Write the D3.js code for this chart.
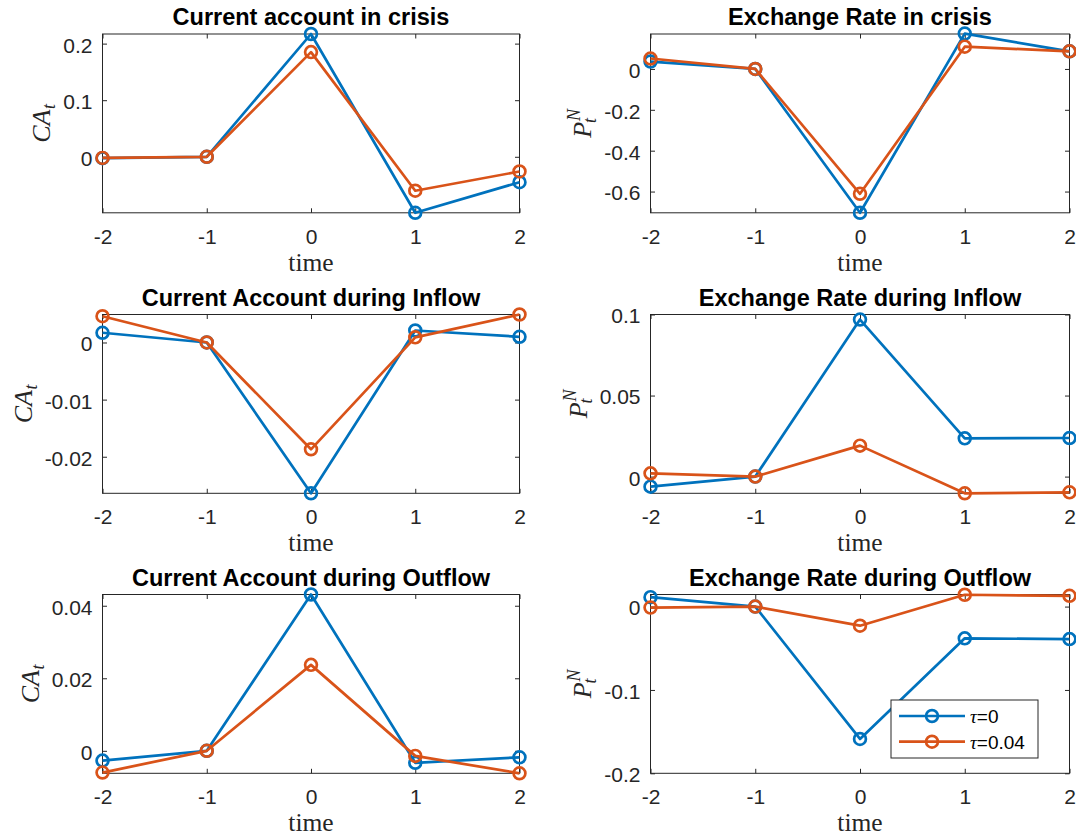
<!DOCTYPE html>
<html>
<head>
<meta charset="utf-8">
<script src="https://cdn.jsdelivr.net/npm/d3@7"></script>
<style>
  html, body { margin: 0; padding: 0; background: #ffffff; }
  svg { display: block; }
</style>
</head>
<body>
<svg id="fig" width="1076" height="837"></svg>
<script>
// ---- data -------------------------------------------------------------
const periods = [-2, -1, 0, 1, 2];
const xTickLabels = ["-2", "-1", "0", "1", "2"];
const tauLabels = ["0", "0.04"];

// Current account in crisis
const caCrisisTau0   = [-0.0025, 0, 0.217, -0.099, -0.045];
const caCrisisTau004 = [-0.002, 0, 0.185, -0.060, -0.026];
const caCrisisLimits = [-0.099, 0.217];
const caCrisisTicks  = [0, 0.1, 0.2];
const caCrisisTickLabels = ["0", "0.1", "0.2"];

// Exchange rate in crisis
const erCrisisTau0   = [0.036, 0, -0.704, 0.173, 0.086];
const erCrisisTau004 = [0.051, 0, -0.611, 0.109, 0.086];
const erCrisisLimits = [-0.704, 0.171];
const erCrisisTicks  = [-0.6, -0.4, -0.2, 0];
const erCrisisTickLabels = ["-0.6", "-0.4", "-0.2", "0"];

// Current account during inflow
const caInflowTau0   = [0.0017, 0, -0.0264, 0.0021, 0.0010];
const caInflowTau004 = [0.0046, 0, -0.0187, 0.0009, 0.0049];
const caInflowLimits = [-0.0264, 0.0049];
const caInflowTicks  = [-0.02, -0.01, 0];
const caInflowTickLabels = ["-0.02", "-0.01", "0"];

// Exchange rate during inflow
const erInflowTau0   = [-0.0062, 0, 0.0969, 0.0236, 0.0238];
const erInflowTau004 = [0.0020, 0, 0.0191, -0.0103, -0.0097];
const erInflowLimits = [-0.0103, 0.1];
const erInflowTicks  = [0, 0.05, 0.1];
const erInflowTickLabels = ["0", "0.05", "0.1"];

// Current account during outflow
const caOutflowTau0   = [-0.0027, 0, 0.0431, -0.0033, -0.0018];
const caOutflowTau004 = [-0.0060, 0, 0.0237, -0.0014, -0.0062];
const caOutflowLimits = [-0.0062, 0.0431];
const caOutflowTicks  = [0, 0.02, 0.04];
const caOutflowTickLabels = ["0", "0.02", "0.04"];

// Exchange rate during outflow
const erOutflowTau0   = [0.0113, 0, -0.1588, -0.0381, -0.0390];
const erOutflowTau004 = [-0.0012, 0, -0.0229, 0.0142, 0.0129];
const erOutflowLimits = [-0.2, 0.0145];
const erOutflowTicks  = [-0.2, -0.1, 0];
const erOutflowTickLabels = ["-0.2", "-0.1", "0"];

// ---- panels ----------------------------------------------------------
const panels = [
  { title: "Current account in crisis", yl: "CA", row: 0, col: 0,
    series: [caCrisisTau0, caCrisisTau004], limits: caCrisisLimits,
    ticks: caCrisisTicks, tickLabels: caCrisisTickLabels },
  { title: "Exchange Rate in crisis", yl: "P", row: 0, col: 1,
    series: [erCrisisTau0, erCrisisTau004], limits: erCrisisLimits,
    ticks: erCrisisTicks, tickLabels: erCrisisTickLabels },
  { title: "Current Account during Inflow", yl: "CA", row: 1, col: 0,
    series: [caInflowTau0, caInflowTau004], limits: caInflowLimits,
    ticks: caInflowTicks, tickLabels: caInflowTickLabels },
  { title: "Exchange Rate during Inflow", yl: "P", row: 1, col: 1,
    series: [erInflowTau0, erInflowTau004], limits: erInflowLimits,
    ticks: erInflowTicks, tickLabels: erInflowTickLabels },
  { title: "Current Account during Outflow", yl: "CA", row: 2, col: 0,
    series: [caOutflowTau0, caOutflowTau004], limits: caOutflowLimits,
    ticks: caOutflowTicks, tickLabels: caOutflowTickLabels },
  { title: "Exchange Rate during Outflow", yl: "P", row: 2, col: 1,
    series: [erOutflowTau0, erOutflowTau004], limits: erOutflowLimits,
    ticks: erOutflowTicks, tickLabels: erOutflowTickLabels, legend: true }
];

// ---- layout & style ---------------------------------------------------
const colLeft  = [102.5, 650.5];
const colRight = [519.5, 1069.5];
const rowTop   = [34, 314.5, 594.5];
const plotH    = 178.8;
const colors   = ["#0072BD", "#D95319"];
const axisColor = "#262626";
const sans  = "'Liberation Sans', Arial, Helvetica, sans-serif";
const serif = "'Liberation Serif', 'Times New Roman', serif";
const tickFont = 21;
const tickLen  = 4.5;
const lineW = 2.7;
const markR = 5.9;

const svg = d3.select("#fig");
svg.append("rect").attr("width", 1076).attr("height", 837).attr("fill", "#fff");

panels.forEach(p => {
  const x0 = colLeft[p.col], x1 = colRight[p.col];
  const y0 = rowTop[p.row], y1 = y0 + plotH;
  const x = d3.scaleLinear().domain([periods[0], periods[periods.length - 1]]).range([x0, x1]);
  const y = d3.scaleLinear().domain(p.limits).range([y1, y0]);
  const g = svg.append("g");

  // axes box
  g.append("rect")
    .attr("x", x0).attr("y", y0).attr("width", x1 - x0).attr("height", y1 - y0)
    .attr("fill", "#fff").attr("stroke", axisColor).attr("stroke-width", 1);

  const styleAxis = sel => {
    sel.select(".domain").remove();
    sel.selectAll(".tick line").attr("stroke", axisColor).attr("stroke-width", 1);
    sel.selectAll(".tick text")
      .attr("fill", axisColor)
      .style("font-family", sans)
      .style("font-size", tickFont + "px");
  };

  // x axes (bottom with labels, top with ticks only)
  g.append("g").attr("transform", `translate(0,${y1})`)
    .call(d3.axisBottom(x).tickValues(periods).tickSize(-tickLen).tickPadding(16)
      .tickFormat((d, i) => xTickLabels[i]))
    .call(styleAxis);
  g.append("g").attr("transform", `translate(0,${y0})`)
    .call(d3.axisTop(x).tickValues(periods).tickSize(-tickLen).tickFormat(""))
    .call(styleAxis);

  // y axes (left with labels, right with ticks only)
  const yAxisG = g.append("g").attr("transform", `translate(${x0},0)`)
    .call(d3.axisLeft(y).tickValues(p.ticks).tickSize(-tickLen).tickPadding(10)
      .tickFormat((d, i) => p.tickLabels[i]))
    .call(styleAxis);
  yAxisG.selectAll(".tick text").attr("dy", "0.4em");
  g.append("g").attr("transform", `translate(${x1},0)`)
    .call(d3.axisRight(y).tickValues(p.ticks).tickSize(-tickLen).tickFormat(""))
    .call(styleAxis);

  // data
  p.series.forEach((vals, si) => {
    const pts = periods.map((t, i) => [t, vals[i]]);
    g.append("path")
      .datum(pts)
      .attr("fill", "none")
      .attr("stroke", colors[si])
      .attr("stroke-width", lineW)
      .attr("stroke-linejoin", "round")
      .attr("d", d3.line().x(d => x(d[0])).y(d => y(d[1])));
    g.selectAll(null).data(pts).enter().append("circle")
      .attr("cx", d => x(d[0])).attr("cy", d => y(d[1]))
      .attr("r", markR)
      .attr("fill", "none")
      .attr("stroke", colors[si])
      .attr("stroke-width", lineW);
  });

  // title
  g.append("text")
    .attr("x", (x0 + x1) / 2).attr("y", y0 - 9)
    .attr("text-anchor", "middle")
    .style("font-family", sans).style("font-weight", "bold").style("font-size", "23.5px")
    .attr("fill", "#000")
    .text(p.title);

  // x label
  g.append("text")
    .attr("x", (x0 + x1) / 2).attr("y", y1 + 58)
    .attr("text-anchor", "middle")
    .style("font-family", serif).style("font-size", "25.5px")
    .attr("fill", axisColor)
    .text("time");

  // y label, placed left of the widest tick label
  let maxW = 0;
  yAxisG.selectAll(".tick text").each(function () {
    maxW = Math.max(maxW, this.getComputedTextLength());
  });
  const baseX = x0 - 10 - maxW - 13;
  const yl = g.append("g")
    .attr("transform", `translate(${baseX},${(y0 + y1) / 2}) rotate(-90)`);
  const main = yl.append("text")
    .attr("x", 0).attr("y", 0)
    .style("font-family", serif).style("font-style", "italic").style("font-size", "26px")
    .attr("fill", axisColor)
    .text(p.yl);
  const mw = main.node().getComputedTextLength();
  let total;
  if (p.yl === "CA") {
    const sub = yl.append("text")
      .attr("x", mw + 0.5).attr("y", 5)
      .style("font-family", serif).style("font-style", "italic").style("font-size", "18px")
      .attr("fill", axisColor).text("t");
    total = mw + 0.5 + sub.node().getComputedTextLength();
  } else {
    const sub = yl.append("text")
      .attr("x", mw - 1).attr("y", 5)
      .style("font-family", serif).style("font-style", "italic").style("font-size", "18px")
      .attr("fill", axisColor).text("t");
    const sup = yl.append("text")
      .attr("x", mw + 1).attr("y", -11)
      .style("font-family", serif).style("font-style", "italic").style("font-size", "18px")
      .attr("fill", axisColor).text("N");
    total = mw + 1 + Math.max(sub.node().getComputedTextLength(), sup.node().getComputedTextLength());
  }
  yl.selectAll("text").attr("transform", `translate(${-total / 2},0)`);

  // legend
  if (p.legend) {
    const lx = 891, ly = 700, lw = 147, lh = 58;
    const lg = svg.append("g");
    lg.append("rect").attr("x", lx).attr("y", ly).attr("width", lw).attr("height", lh)
      .attr("fill", "#fff").attr("stroke", axisColor).attr("stroke-width", 1);
    tauLabels.forEach((lab, i) => {
      const ry = ly + 16 + i * 25.7;
      lg.append("line").attr("x1", lx + 8).attr("x2", lx + 74).attr("y1", ry).attr("y2", ry)
        .attr("stroke", colors[i]).attr("stroke-width", lineW);
      lg.append("circle").attr("cx", lx + 41).attr("cy", ry).attr("r", markR)
        .attr("fill", "none").attr("stroke", colors[i]).attr("stroke-width", lineW);
      const t = lg.append("text").attr("x", lx + 79).attr("y", ry + 7)
        .attr("fill", "#000").style("font-size", "19px");
      t.append("tspan").style("font-family", serif).style("font-style", "italic").text("τ");
      t.append("tspan").style("font-family", sans).text("=" + lab);
    });
  }
});
</script>
</body>
</html>
